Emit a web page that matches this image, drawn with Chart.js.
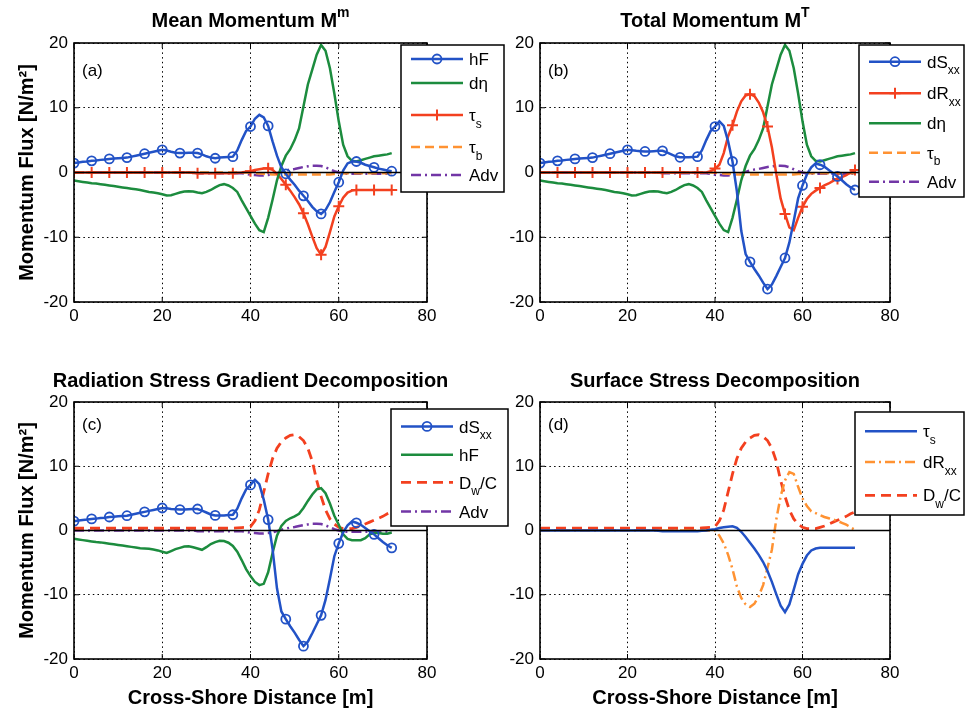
<!DOCTYPE html>
<html><head><meta charset="utf-8">
<script src="https://cdn.jsdelivr.net/npm/chart.js@4.4.1/dist/chart.umd.min.js"></script>
<style>
html,body{margin:0;padding:0;background:#fff;}
#wrap{position:relative;width:966px;height:712px;overflow:hidden;background:#fff;}
canvas{position:absolute;}
</style></head><body>
<div id="wrap">
<canvas id="cA" width="515" height="345" style="left:0px;top:0px"></canvas>
<canvas id="cB" width="458" height="345" style="left:508px;top:0px"></canvas>
<canvas id="cC" width="515" height="357" style="left:0px;top:355px"></canvas>
<canvas id="cD" width="458" height="357" style="left:508px;top:355px"></canvas>
</div>
<script>
// ---------------- DATA ----------------
const distance = [0,1,2,3,4,5,6,7,8,9,10,11,12,13,14,15,16,17,18,19,20,21,22,23,24,25,26,27,28,29,30,31,32,33,34,35,36,37,38,39,40,41,42,43,44,45,46,47,48,49,50,51,52,53,54,55,56,57,58,59,60,61,62,63,64,65,66,67,68,69,70,71,72];

const hF_mean = [1.45,1.55,1.65,1.7,1.8,1.85,1.95,2.0,2.1,2.15,
  2.2,2.25,2.3,2.45,2.6,2.75,2.9,3.05,3.2,3.35,
  3.5,3.4,3.2,3.05,3.0,3.0,3.05,3.05,3.0,2.8,
  2.5,2.3,2.2,2.3,2.35,2.4,2.45,3.4,5.0,6.4,
  7.1,8.3,8.9,8.5,7.2,4.8,2.6,0.8,-0.2,-1.1,
  -1.9,-2.8,-3.6,-4.4,-5.3,-6.0,-6.4,-5.8,-4.6,-3.0,
  -1.5,0.3,1.4,1.7,1.7,1.5,1.2,1.0,0.8,0.6,
  0.45,0.3,0.2];

const dEta = [-1.25,-1.35,-1.45,-1.55,-1.65,-1.7,-1.8,-1.9,-2.0,-2.1,
  -2.2,-2.3,-2.4,-2.5,-2.6,-2.7,-2.85,-3.0,-3.1,-3.2,
  -3.35,-3.55,-3.5,-3.3,-3.1,-2.95,-2.9,-2.95,-3.1,-3.2,
  -3.0,-2.7,-2.3,-1.95,-1.8,-2.0,-2.4,-3.0,-4.3,-5.5,
  -6.7,-7.9,-8.9,-9.2,-7.0,-4.2,-1.2,1.0,2.6,3.6,
  5.0,6.8,10.2,13.6,15.9,18.2,19.7,18.8,16.1,12.2,
  7.9,4.3,2.5,1.8,1.7,1.9,2.1,2.3,2.5,2.6,
  2.7,2.8,3.0];

const tauS = [0,0,0,0,0,0,0,0,0,0,
  0,0,0,0,0,0,0,0,0,0,
  0,0,0,0,0,0,0,-0.05,-0.1,-0.1,
  -0.1,-0.1,-0.1,-0.1,-0.1,-0.1,-0.1,-0.05,0,0.1,
  0.2,0.4,0.5,0.6,0.65,0.4,-0.2,-1.0,-1.9,-2.8,
  -3.8,-4.9,-6.3,-8.0,-9.9,-11.7,-12.7,-11.5,-9.2,-6.8,
  -5.2,-3.9,-3.1,-2.8,-2.7,-2.7,-2.7,-2.7,-2.7,-2.7,
  -2.7,-2.7,-2.7];

const tauB = [0,0,0,0,0,0,0,0,0,0,
  0,0,0,0,0,0,0,0,0,0,
  0,0,0,0,0,0,0,0,0,0,
  0,0,0,0,0,0,0,0,0,0,
  -0.05,-0.1,-0.15,-0.2,-0.25,-0.3,-0.3,-0.3,-0.3,-0.3,
  -0.3,-0.3,-0.3,-0.3,-0.3,-0.3,-0.3,-0.3,-0.3,-0.25,
  -0.2,-0.15,-0.1,-0.1,-0.1,-0.1,-0.1,-0.1,-0.1,-0.1,
  -0.1,-0.1,-0.1];

const adv = [0,0,0,0,0,0,0,0,0,0,
  0,0,0,0,0,0,0,0,0,0,
  0,0,0,0,0,0,0,0,-0.1,-0.1,
  -0.1,-0.1,-0.1,-0.1,-0.1,-0.1,-0.1,-0.1,-0.1,-0.2,
  -0.35,-0.4,-0.45,-0.45,-0.4,-0.3,-0.1,0.1,0.3,0.45,
  0.55,0.7,0.85,0.95,1.05,1.05,1.0,0.8,0.5,0.2,
  0.0,-0.15,-0.2,-0.2,-0.2,-0.2,-0.2,-0.2,-0.2,-0.2,
  -0.2,-0.2,-0.2];

const dSxx = [1.45,1.55,1.65,1.7,1.8,1.85,1.95,2.0,2.1,2.15,
  2.2,2.25,2.3,2.45,2.6,2.75,2.9,3.05,3.2,3.35,
  3.5,3.45,3.35,3.3,3.25,3.25,3.3,3.35,3.35,3.1,
  2.8,2.5,2.35,2.35,2.35,2.4,2.45,3.4,5.0,6.4,
  7.1,7.9,7.2,4.8,1.7,-2.9,-9.0,-12.6,-13.8,-14.9,
  -15.9,-17.0,-18.0,-17.3,-16.0,-14.6,-13.2,-10.8,-7.5,-4.0,
  -2.0,-0.3,0.8,1.4,1.2,0.9,0.4,-0.1,-0.6,-1.2,
  -1.8,-2.3,-2.7];

const dRxx_total = [0,0,0,0,0,0,0,0,0,0,
  0,0,0,0,0,0,0,0,0,0,
  0,0,0,0,0,0,0,0,0,0,
  0,0,0,0,0,0,0,0,0,0.2,
  0.6,1.2,3.0,5.6,7.3,9.4,11.0,11.9,12.1,11.8,
  10.8,9.3,7.1,3.9,-0.2,-4.0,-6.4,-8.5,-8.9,-7.0,
  -5.3,-4.1,-3.3,-2.8,-2.4,-2.0,-1.7,-1.3,-1.0,-0.7,
  -0.4,0.0,0.4];

const dRxx_surface = [0,0,0,0,0,0,0,0,0,0,
  0,0,0,0,0,0,0,0,0,0,
  0,0,0,0,0,0,0,0,0,0,
  0,0,0,0,0,0,0,0,0,0,
  0,-0.8,-2.0,-3.8,-6.0,-8.7,-10.5,-11.5,-11.9,-11.4,
  -10.2,-8.5,-5.8,-3.0,1.7,5.3,7.8,9.1,8.8,6.8,
  5.0,3.8,3.0,2.7,2.4,2.1,1.9,1.7,1.5,1.2,
  0.9,0.5,0.1];

const DwC = [0.35,0.35,0.35,0.35,0.35,0.35,0.35,0.35,0.35,0.35,
  0.35,0.35,0.35,0.35,0.35,0.35,0.35,0.35,0.35,0.35,
  0.35,0.35,0.35,0.35,0.35,0.35,0.35,0.35,0.35,0.35,
  0.35,0.35,0.35,0.35,0.35,0.35,0.35,0.4,0.45,0.5,
  0.6,1.5,3.2,6.0,8.8,11.2,12.8,13.8,14.4,14.8,
  14.9,14.6,14.0,12.8,10.8,7.8,5.3,3.2,1.8,1.0,
  0.5,0.3,0.25,0.3,0.5,0.7,1.0,1.3,1.6,1.9,
  2.2,2.6,2.9];

const hF_radiation = [-1.3,-1.4,-1.5,-1.6,-1.7,-1.8,-1.85,-1.95,-2.05,-2.15,
  -2.25,-2.35,-2.45,-2.55,-2.65,-2.75,-2.8,-2.85,-2.95,-3.1,
  -3.3,-3.5,-3.2,-2.9,-2.7,-2.5,-2.45,-2.6,-2.8,-3.0,
  -2.6,-2.1,-1.8,-1.6,-1.65,-1.9,-2.4,-3.3,-4.6,-6.0,
  -7.1,-8.0,-8.5,-8.3,-6.5,-3.5,-0.8,0.7,1.5,1.9,
  2.2,2.6,3.5,4.6,5.6,6.4,6.6,5.8,4.2,2.3,
  0.9,-0.6,-1.3,-1.5,-1.5,-1.5,-1.2,-0.6,-0.4,-0.4,
  -0.5,-0.5,-0.3];

const xTicks = [0,20,40,60,80];
const yTicks = [-20,-10,0,10,20];
const panelTitles = ['Mean Momentum M^m','Total Momentum M^T','Radiation Stress Gradient Decomposition','Surface Stress Decomposition'];
const panelTags = ['(a)','(b)','(c)','(d)'];
const yAxisTitle = 'Momentum Flux [N/m²]';
const xAxisTitle = 'Cross-Shore Distance [m]';

// ---------------- STYLE ----------------
const FONT = '"Liberation Sans", Arial, Helvetica, sans-serif';
Chart.defaults.font.family = FONT;
Chart.defaults.font.size = 17;
Chart.defaults.color = '#000';

const BLUE = '#2252c6', GREEN = '#1c8c3e', RED = '#f3401f', ORANGE = '#ff9232', PURPLE = '#7236a6';

const pts = arr => distance.map((x, i) => ({x: x, y: arr[i]}));
const markEvery4 = r => ctx => (distance[ctx.dataIndex] % 4 === 0 ? r : 0);

function series(label, arr, color, extra) {
  return Object.assign({
    label: label, data: pts(arr), borderColor: color, backgroundColor: color,
    borderWidth: 2.5, pointRadius: 0, pointHoverRadius: 0, tension: 0, fill: false
  }, extra || {});
}
const circ = {pointStyle: 'circle', pointRadius: markEvery4(4.5), pointBorderWidth: 1.8,
  pointBackgroundColor: 'rgba(0,0,0,0)', legendMarker: 'circle'};
const plus = {pointStyle: 'cross', pointRadius: markEvery4(5.5), pointBorderWidth: 2, legendMarker: 'cross'};
const dashed = {borderDash: [9, 5]};
const dashDot = {borderDash: [10, 4, 2, 4]};

// ---------------- RICH TEXT ----------------
function parseRich(s) {
  const out = []; let i = 0, buf = '';
  while (i < s.length) {
    const c = s[i];
    if (c === '_' || c === '^') {
      if (buf) { out.push({t: buf, m: 0}); buf = ''; }
      const m = c === '_' ? 1 : 2; i++;
      let t = '';
      if (s[i] === '{') { i++; while (i < s.length && s[i] !== '}') { t += s[i]; i++; } i++; }
      else { t = s[i]; i++; }
      out.push({t: t, m: m});
    } else { buf += c; i++; }
  }
  if (buf) out.push({t: buf, m: 0});
  return out;
}
function drawRich(ctx, s, x, y, size, weight, align) {
  const parts = parseRich(s);
  const small = Math.round(size * 0.72);
  let w = 0;
  parts.forEach(p => { ctx.font = weight + ' ' + (p.m ? small : size) + 'px ' + FONT; p.w = ctx.measureText(p.t).width; w += p.w; });
  let cx = align === 'center' ? x - w / 2 : x;
  const base = y + size * 0.36;
  ctx.textAlign = 'left'; ctx.textBaseline = 'alphabetic';
  parts.forEach(p => {
    ctx.font = weight + ' ' + (p.m ? small : size) + 'px ' + FONT;
    const by = p.m === 1 ? base + size * 0.38 : (p.m === 2 ? base - size * 0.52 : base);
    ctx.fillText(p.t, cx, by); cx += p.w;
  });
}

// ---------------- PLUGIN: zero line, box, ticks, tag, title, legend ----------------
const decor = {
  id: 'decor',
  afterDatasetsDraw(chart, args, o) {
    const ctx = chart.ctx, a = chart.chartArea, xs = chart.scales.x, ys = chart.scales.y;
    ctx.save();
    ctx.setLineDash([]);
    ctx.strokeStyle = '#000';
    // zero line
    ctx.lineWidth = 1.6;
    const y0 = ys.getPixelForValue(0);
    ctx.beginPath(); ctx.moveTo(a.left, y0); ctx.lineTo(a.right, y0); ctx.stroke();
    // inward tick marks
    ctx.lineWidth = 1;
    ys.ticks.forEach(t => { const y = ys.getPixelForValue(t.value);
      ctx.beginPath(); ctx.moveTo(a.left, y); ctx.lineTo(a.left + 5, y); ctx.moveTo(a.right, y); ctx.lineTo(a.right - 5, y); ctx.stroke(); });
    xs.ticks.forEach(t => { const x = xs.getPixelForValue(t.value);
      ctx.beginPath(); ctx.moveTo(x, a.bottom); ctx.lineTo(x, a.bottom - 5); ctx.moveTo(x, a.top); ctx.lineTo(x, a.top + 5); ctx.stroke(); });
    // axes box
    ctx.lineWidth = 1.6;
    ctx.strokeRect(a.left, a.top, a.right - a.left, a.bottom - a.top);
    // panel tag
    ctx.fillStyle = '#000';
    ctx.font = '17px ' + FONT; ctx.textAlign = 'left'; ctx.textBaseline = 'middle';
    ctx.fillText(o.tag, a.left + 8, a.top + o.tagDy);
    // title
    drawRich(ctx, o.title, (a.left + a.right) / 2, o.titleY, 20, 'bold', 'center');
    // legend
    const L = o.legend;
    ctx.fillStyle = '#fff'; ctx.fillRect(L.x, L.y, L.w, L.h);
    ctx.strokeStyle = '#000'; ctx.lineWidth = 1.5; ctx.strokeRect(L.x, L.y, L.w, L.h);
    chart.data.datasets.forEach((ds, i) => {
      const cy = L.y + L.rows[i];
      const x0 = L.x + 10, x1 = x0 + 52, xm = (x0 + x1) / 2;
      ctx.strokeStyle = ds.borderColor; ctx.lineWidth = ds.borderWidth;
      ctx.setLineDash(ds.borderDash || []);
      ctx.beginPath(); ctx.moveTo(x0, cy); ctx.lineTo(x1, cy); ctx.stroke();
      ctx.setLineDash([]);
      if (ds.legendMarker === 'circle') {
        ctx.lineWidth = 1.8; ctx.beginPath(); ctx.arc(xm, cy, 4.5, 0, Math.PI * 2); ctx.stroke();
      } else if (ds.legendMarker === 'cross') {
        ctx.lineWidth = 2; ctx.beginPath(); ctx.moveTo(xm, cy - 5.5); ctx.lineTo(xm, cy + 5.5); ctx.moveTo(xm - 5.5, cy); ctx.lineTo(xm + 5.5, cy); ctx.stroke();
      }
      ctx.fillStyle = '#000';
      drawRich(ctx, ds.label, x1 + 6, cy, 17, 'normal', 'left');
    });
    ctx.restore();
  }
};

function makeChart(id, datasets, p) {
  return new Chart(document.getElementById(id), {
    type: 'line',
    data: {datasets: datasets},
    options: {
      responsive: false, animation: false, events: [],
      layout: {padding: {left: 0, right: p.padRight, top: p.padTop, bottom: 0}},
      plugins: {
        legend: {display: false}, tooltip: {enabled: false},
        decor: {title: p.title, tag: p.tag, tagDy: p.tagDy, titleY: p.titleY, legend: p.legend}
      },
      scales: {
        x: {
          type: 'linear', min: xTicks[0], max: xTicks[xTicks.length - 1],
          afterBuildTicks: s => { s.ticks = xTicks.map(v => ({value: v})); },
          ticks: {padding: 4, maxRotation: 0, color: '#000', font: {size: 17}},
          grid: {color: '#000', lineWidth: 1, drawTicks: false},
          border: {display: false, dash: [1.5, 3.2]},
          title: {display: p.xTitle, text: xAxisTitle, color: '#000', font: {size: 20, weight: 'bold'}, padding: {top: 0, bottom: 2}},
          afterFit: s => { s.height = p.xH; }
        },
        y: {
          type: 'linear', min: yTicks[0], max: yTicks[yTicks.length - 1],
          afterBuildTicks: s => { s.ticks = yTicks.map(v => ({value: v})); },
          ticks: {padding: 6, color: '#000', font: {size: 17}},
          grid: {color: c => (c.tick && c.tick.value === 0 ? 'rgba(0,0,0,0)' : '#000'), lineWidth: 1, drawTicks: false},
          border: {display: false, dash: [1.5, 3.2]},
          title: {display: p.yTitle, text: yAxisTitle, color: '#000', font: {size: 20, weight: 'bold'}, padding: {top: 15, bottom: 0}},
          afterFit: s => { s.width = p.yW; }
        }
      }
    },
    plugins: [decor]
  });
}

// (a) Mean momentum
makeChart('cA', [
  series('hF', hF_mean, BLUE, circ),
  series('dη', dEta, GREEN),
  series('τ_s', tauS, RED, plus),
  series('τ_b', tauB, ORANGE, dashed),
  series('Adv', adv, PURPLE, dashDot)
], {padRight: 88, padTop: 43, xH: 43, yW: 74, xTitle: false, yTitle: true,
    title: panelTitles[0], tag: panelTags[0], tagDy: 28, titleY: 20,
    legend: {x: 401, y: 45, w: 103, h: 147, rows: [14, 38, 70, 102, 130]}});

// (b) Total momentum
makeChart('cB', [
  series('dS_{xx}', dSxx, BLUE, circ),
  series('dR_{xx}', dRxx_total, RED, plus),
  series('dη', dEta, GREEN),
  series('τ_b', tauB, ORANGE, dashed),
  series('Adv', adv, PURPLE, dashDot)
], {padRight: 76, padTop: 43, xH: 43, yW: 32, xTitle: false, yTitle: false,
    title: panelTitles[1], tag: panelTags[1], tagDy: 28, titleY: 20,
    legend: {x: 351, y: 45, w: 105, h: 152, rows: [16.7, 48.3, 78.3, 107.7, 136.7]}});

// (c) Radiation stress gradient decomposition
makeChart('cC', [
  series('dS_{xx}', dSxx, BLUE, circ),
  series('hF', hF_radiation, GREEN),
  series('D_w/C', DwC, RED, {borderDash: [10, 6], borderWidth: 2.8}),
  series('Adv', adv, PURPLE, dashDot)
], {padRight: 88, padTop: 47, xH: 53, yW: 74, xTitle: true, yTitle: true,
    title: panelTitles[2], tag: panelTags[2], tagDy: 23, titleY: 25,
    legend: {x: 391, y: 54, w: 117, h: 117, rows: [17.4, 45.7, 73.4, 102.4]}});

// (d) Surface stress decomposition
makeChart('cD', [
  series('τ_s', tauS, BLUE),
  series('dR_{xx}', dRxx_surface, ORANGE, dashDot),
  series('D_w/C', DwC, RED, {borderDash: [10, 6], borderWidth: 2.8})
], {padRight: 76, padTop: 47, xH: 53, yW: 32, xTitle: true, yTitle: false,
    title: panelTitles[3], tag: panelTags[3], tagDy: 23, titleY: 25,
    legend: {x: 347, y: 57, w: 109, h: 103, rows: [19.3, 50, 83.3]}});
</script>
</body></html>
